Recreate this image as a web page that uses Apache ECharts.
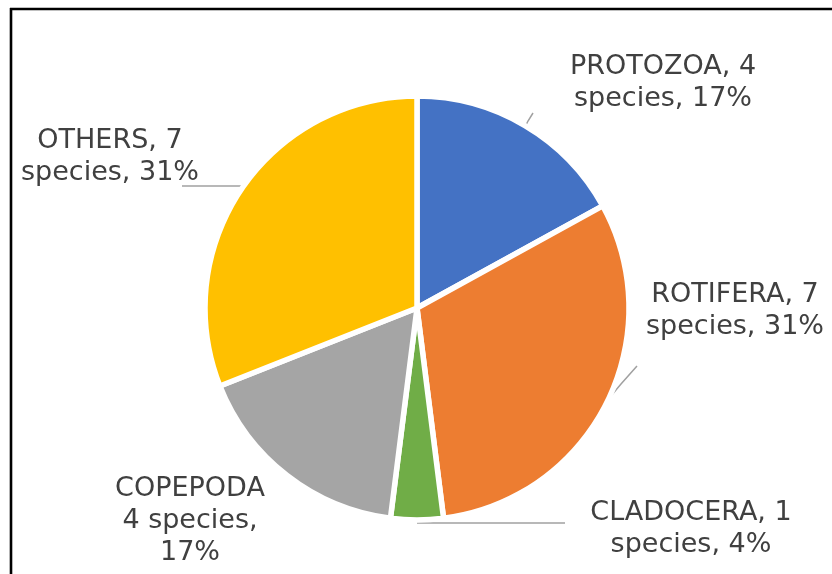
<!DOCTYPE html>
<html>
<head>
<meta charset="utf-8">
<style>
  html, body { margin: 0; padding: 0; background: #ffffff; }
  #chart { width: 832px; height: 574px; }
</style>
<script src="https://cdn.jsdelivr.net/npm/echarts@6/dist/echarts.min.js"></script>
</head>
<body>
<div id="chart"></div>
<script>
// Zooplankton groups, species counts and percentage shares
const categories = ['PROTOZOA', 'ROTIFERA', 'CLADOCERA', 'COPEPODA', 'OTHERS'];
const speciesCounts = [4, 7, 1, 4, 7];
const percentShares = [17, 31, 4, 17, 31];
const sliceColors = ['#4472C4', '#ED7D31', '#70AD47', '#A5A5A5', '#FFC000'];

// How each label breaks across lines
const labelTemplates = [
  '{n}, {c}\nspecies, {p}%',
  '{n}, {c}\nspecies, {p}%',
  '{n}, {c}\nspecies, {p}%',
  '{n}\n{c} species,\n{p}%',
  '{n}, {c}\nspecies, {p}%'
];

// Label block centres and leader lines (pixels)
const labelAnchors = [[663, 83], [735, 311], [691, 529], [190, 521], [110, 157]];
const leaderPoints = [
  [[524, 129], [528, 121], [533, 113]],
  [[605, 403], [621, 384], [637, 366]],
  [[417, 523], [490, 523], [565, 523]],
  null,
  [[244, 186], [213, 186], [182, 186]]
];

const chart = echarts.init(document.getElementById('chart'), null, { renderer: 'canvas' });

const data = categories.map((name, i) => ({
  name: name,
  value: percentShares[i],
  itemStyle: { color: sliceColors[i] },
  labelLine: { show: leaderPoints[i] !== null }
}));

chart.setOption({
  animation: false,
  backgroundColor: '#ffffff',
  graphic: [
    { type: 'line', shape: { x1: 10, y1: 9, x2: 832, y2: 9 }, style: { stroke: '#000', lineWidth: 2.6 } },
    { type: 'line', shape: { x1: 11, y1: 8, x2: 11, y2: 574 }, style: { stroke: '#000', lineWidth: 2.6 } }
  ],
  series: [{
    type: 'pie',
    center: [417, 308],
    radius: 212,
    startAngle: 90,
    clockwise: true,
    avoidLabelOverlap: false,
    itemStyle: { borderColor: '#ffffff', borderWidth: 5.5 },
    emphasis: { disabled: true },
    label: {
      show: true,
      position: 'outside',
      fontFamily: 'DejaVu Sans',
      fontSize: 27,
      lineHeight: 32,
      color: '#404040',
      align: 'center',
      formatter: function (p) {
        const i = p.dataIndex;
        return labelTemplates[i]
          .replace('{n}', categories[i])
          .replace('{c}', speciesCounts[i])
          .replace('{p}', percentShares[i]);
      }
    },
    labelLine: {
      show: true,
      lineStyle: { color: '#a0a0a0', width: 1.5 }
    },
    labelLayout: function (params) {
      const i = params.dataIndex;
      const out = {
        x: labelAnchors[i][0],
        y: labelAnchors[i][1],
        align: 'center',
        verticalAlign: 'middle'
      };
      if (leaderPoints[i]) out.labelLinePoints = leaderPoints[i];
      return out;
    },
    data: data
  }]
});
</script>
</body>
</html>
